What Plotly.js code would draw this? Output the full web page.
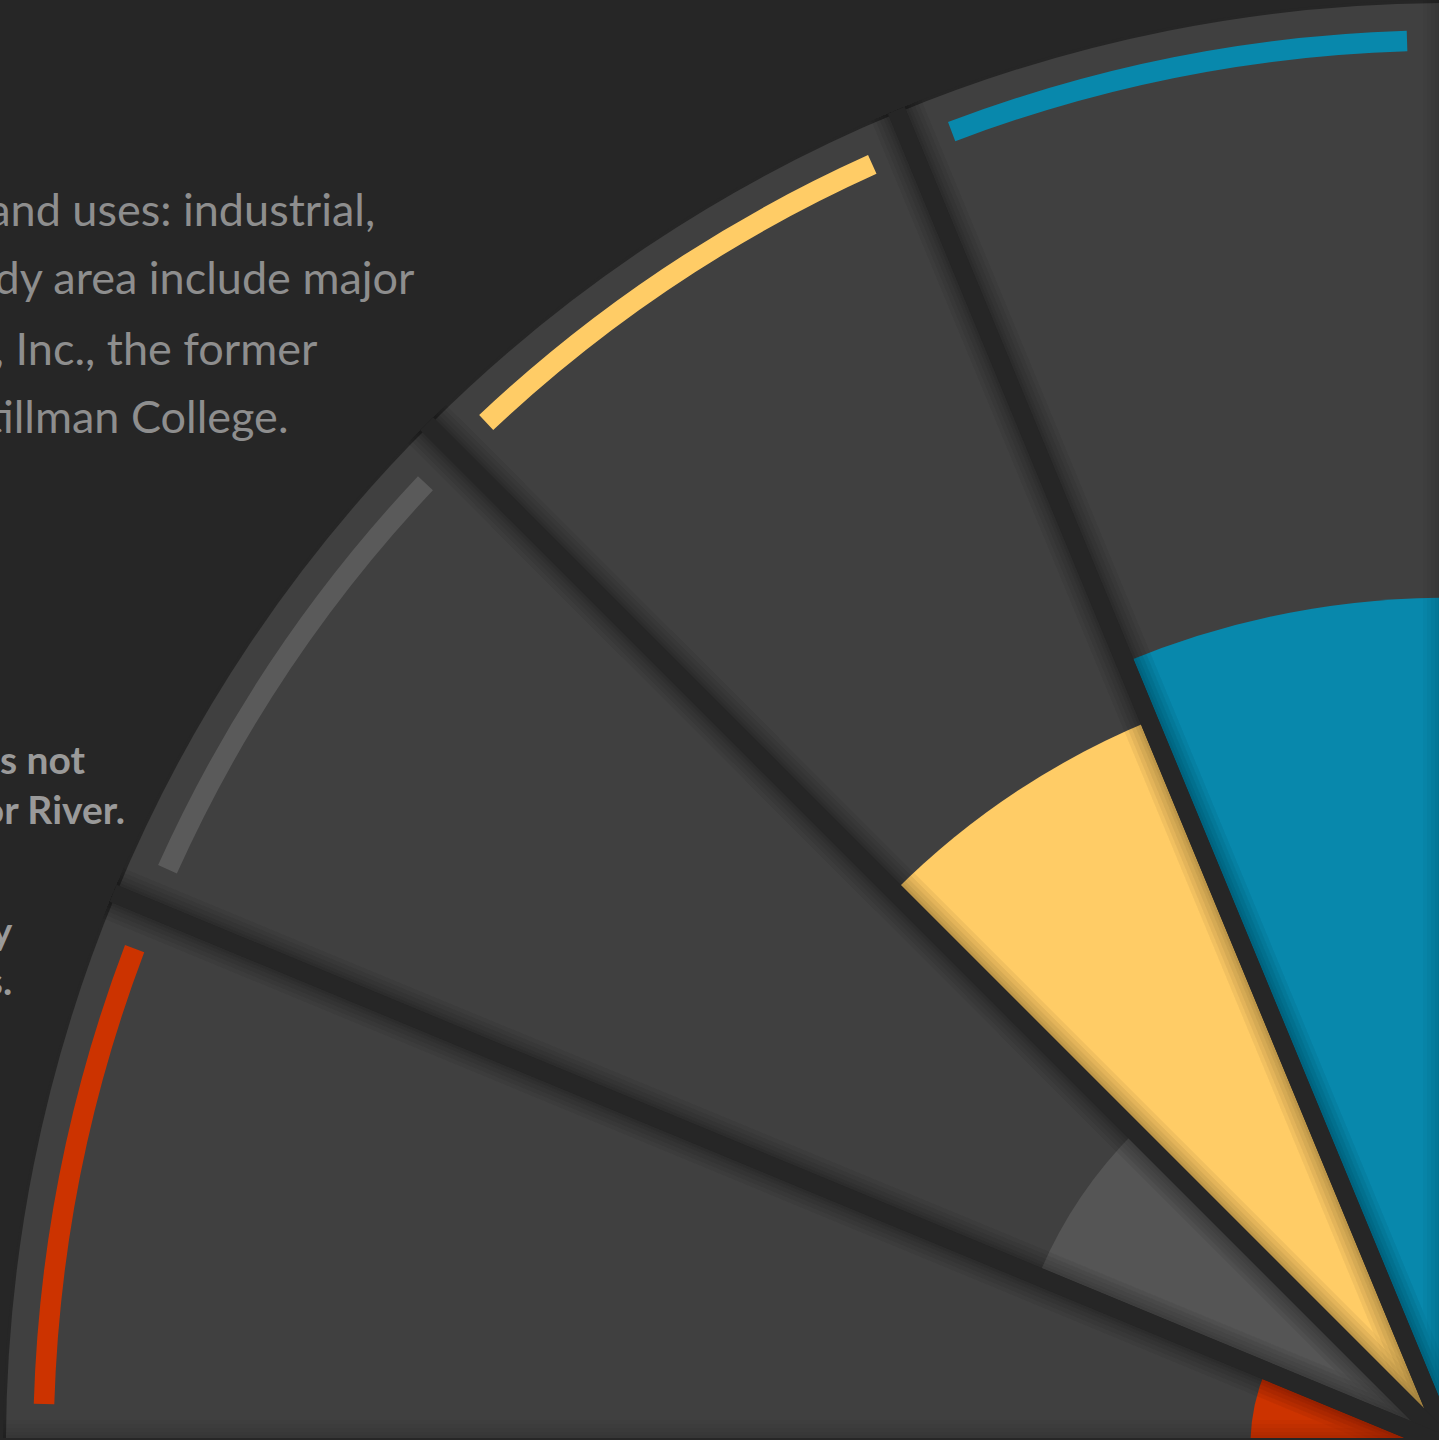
<!DOCTYPE html>
<html>
<head>
<meta charset="utf-8">
<script src="https://cdn.plot.ly/plotly-3.0.1.min.js"></script>
<style>
  html, body { margin: 0; padding: 0; background: #262626; overflow: hidden; width: 1439px; height: 1440px; }
  #chart { width: 1460px; height: 1460px; }
</style>
</head>
<body>
<div id="chart"></div>
<script>
// ---- data ----
const sectorCenters = [101.25, 123.75, 146.25, 168.75];   // angular position of each category (deg)
const sectorWidth = 22.5;
const barValues = [58.7, 54.3, 30.8, 13.8];                // inner coloured wedge values
const fullScale = [99.8, 99.8, 99.8, 99.8];                // background wedge (max)
const barColors = ['#0888AC', '#FFCC66', '#555555', '#CC3300'];
const arcColors = ['#0888AC', '#FFCC66', '#5A5A5A', '#CC3300'];

const textLines = [
  'The area contains mixed land uses: industrial,',
  'Landmarks within the study area include major',
  'employers such as Company, Inc., the former',
  'campus, and Stillman College.'
];
const boldLines = [
  'The study area is not',
  'adjacent to the Black Warrior River.',
  'It is served primarily',
  'by local roads.'
];

// ---- canvas geometry (plot is larger than the window; the window crops it) ----
const W = 1460, H = 1460;
const cx = 1450, cy = 1447, R = 1447;   // centre of the polar area and its radius in px

function bar(extra) {
  return Object.assign({ type: 'barpolar', theta: sectorCenters, width: sectorWidth, hoverinfo: 'skip', showlegend: false }, extra);
}
const bg = bar({ r: fullScale, marker: { color: '#404040', line: { width: 0 } } });
const bars = bar({ r: barValues, marker: { color: barColors, line: { width: 0 } } });
const arcs = bar({ base: 96.5, r: [1.42, 1.42, 1.42, 1.42], width: 19, marker: { color: arcColors, line: { width: 0 } } });
const overR = [130, 130, 130, 130];
const shadows = [54, 46, 38, 30, 24].map(w => bar({
  r: overR, marker: { color: 'rgba(0,0,0,0)', line: { color: 'rgba(0,0,0,0.028)', width: w } }
}));
const dividers = bar({ r: overR, marker: { color: 'rgba(0,0,0,0)', line: { color: '#262626', width: 18 } } });

// ---- annotations ----
const regRight = [376, 416, 319, 290];
const regBase = [224, 292, 363, 431];
const boldRight = [87, 126, 14, 13];
const boldBase = [772, 822, 943, 993];
const annotations = [];
textLines.forEach((t, i) => {
  annotations.push({
    text: t, xref: 'paper', yref: 'paper', x: regRight[i] / W, y: 1 - (regBase[i] - 15) / H,
    xanchor: 'right', yanchor: 'middle', showarrow: false, borderpad: 0,
    font: { family: 'Lato, sans-serif', size: 45, color: '#8E8E8E' }
  });
});
boldLines.forEach((t, i) => {
  annotations.push({
    text: '<b>' + t + '</b>', xref: 'paper', yref: 'paper', x: boldRight[i] / W, y: 1 - (boldBase[i] - 13) / H,
    xanchor: 'right', yanchor: 'middle', showarrow: false, borderpad: 0,
    font: { family: 'Lato, sans-serif', size: 39, color: '#9A9A9A' }
  });
});

const layout = {
  width: W, height: H,
  margin: { l: 0, r: 0, t: 0, b: 0, pad: 0 },
  paper_bgcolor: '#262626', plot_bgcolor: '#262626',
  showlegend: false,
  polar: {
    domain: { x: [(cx - R) / W, cx / W], y: [(H - cy) / H, (H - cy + R) / H] },
    sector: [90, 180],
    bgcolor: '#262626',
    barmode: 'overlay',
    hole: 0,
    radialaxis: { range: [0, 100], visible: false, showgrid: false, showline: false, showticklabels: false, ticks: '' },
    angularaxis: { visible: false, showgrid: false, showline: false, showticklabels: false, ticks: '', direction: 'counterclockwise', rotation: 0 }
  },
  annotations: annotations
};

Plotly.newPlot('chart', [bg, bars, arcs].concat(shadows, [dividers]), layout, { displayModeBar: false, staticPlot: true });
</script>
</body>
</html>
